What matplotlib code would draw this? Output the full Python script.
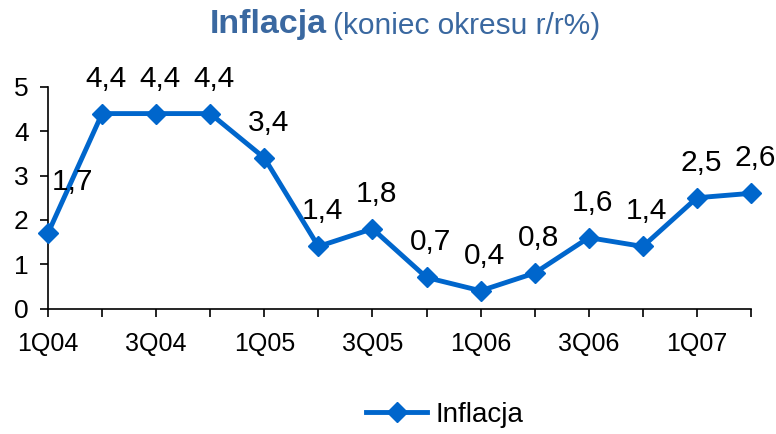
import matplotlib
matplotlib.use("Agg")
import matplotlib.pyplot as plt
from matplotlib import font_manager

# ---- data ----
categories = ["1Q04", "2Q04", "3Q04", "4Q04", "1Q05", "2Q05", "3Q05", "4Q05",
              "1Q06", "2Q06", "3Q06", "4Q06", "1Q07", "2Q07"]
inflacja = [1.7, 4.4, 4.4, 4.4, 3.4, 1.4, 1.8, 0.7, 0.4, 0.8, 1.6, 1.4, 2.5, 2.6]
y_ticks = [0, 1, 2, 3, 4, 5]
title_main = "Inflacja"
title_sub = "(koniec okresu r/r%)"
series_name = "Inflacja"

names = {f.name for f in font_manager.fontManager.ttflist}
base = "Liberation Sans" if "Liberation Sans" in names else "DejaVu Sans"
plt.rcParams["font.family"] = [base, "DejaVu Sans"]

line_color = "#0066CC"
title_color = "#3A68A0"

fig = plt.figure(figsize=(7.76, 4.34), dpi=100)
ax = fig.add_axes([48 / 776, 1 - 308.5 / 434, (751 - 48) / 776, (308.5 - 87) / 434])

x = list(range(len(categories)))
ax.plot(x, inflacja, color=line_color, lw=3.5, marker="D", ms=10.5,
        clip_on=False, zorder=3, label=series_name)

for i, v in enumerate(inflacja):
    dx, dy = (24, 51) if i == 0 else (4, 35)
    ax.annotate(f"{v:.1f}".replace(".", ","), xy=(i, v), xytext=(dx, dy),
                textcoords="offset pixels", ha="center", va="center",
                fontsize=21.5, color="black")

ax.set_xlim(0, len(categories) - 1)
ax.set_ylim(0, 5)
ax.set_yticks(y_ticks)
ax.set_yticklabels([str(t) for t in y_ticks])
ax.set_xticks(x)
ax.set_xticklabels([c if i % 2 == 0 else "" for i, c in enumerate(categories)])

for s in ["top", "right"]:
    ax.spines[s].set_visible(False)
for s in ["left", "bottom"]:
    ax.spines[s].set_linewidth(1.2)
    ax.spines[s].set_color("black")

ax.tick_params(axis="y", direction="out", length=6, width=1.2, labelsize=19, pad=8)
ax.tick_params(axis="x", direction="out", length=6, width=1.2, labelsize=18, pad=11)

# title
t1 = fig.text(210 / 776, 1 - 33 / 434, title_main, fontsize=24.5, fontweight="bold",
              color=title_color, ha="left", va="baseline")
fig.canvas.draw()
ax.annotate(title_sub, xy=(1, 0), xycoords=t1, xytext=(6, 0),
            textcoords="offset pixels", ha="left", va="bottom",
            fontsize=21.5, color=title_color, annotation_clip=False)

fig.legend(loc="center", bbox_to_anchor=(445 / 776, 1 - 415 / 434),
           frameon=False, fontsize=20, handlelength=2.2, handletextpad=0.3)

fig.savefig("out.png", dpi=100)
